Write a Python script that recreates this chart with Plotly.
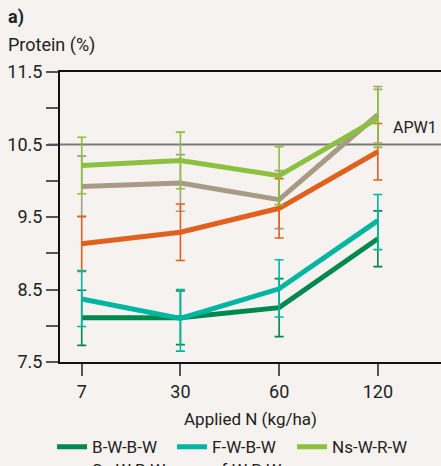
import plotly.graph_objects as go

# ---- data ----
n_rates = ["7", "30", "60", "120"]
series_names = ["B-W-B-W", "F-W-B-W", "Ns-W-R-W", "Sc-W-B-W", "af-W-R-W"]
bwbw = [8.11, 8.11, 8.25, 9.20]
bwbw_err = [0.38, 0.37, 0.40, 0.385]
fwbw = [8.37, 8.10, 8.51, 9.45]
fwbw_err_plus = [0.39, 0.40, 0.40, 0.36]
fwbw_err_minus = [0.38, 0.45, 0.39, 0.40]
nswrw = [10.21, 10.28, 10.07, 10.86]
nswrw_err = [0.39, 0.39, 0.40, 0.40]
orange_vals = [9.13, 9.29, 9.62, 10.40]
orange_err = [0.38, 0.39, 0.41, 0.39]
tan_vals = [9.92, 9.97, 9.74, 10.91]
tan_err = [0.42, 0.39, 0.40, 0.39]
apw1_level = 10.5
y_tickvals = [7.5, 8.0, 8.5, 9.0, 9.5, 10.0, 10.5, 11.0, 11.5]
y_ticktext = ["7.5", "", "8.5", "", "9.5", "", "10.5", "", "11.5"]

colors = {
    "B-W-B-W": "#00884f",
    "F-W-B-W": "#00b6a1",
    "Ns-W-R-W": "#8cc03f",
    "Sc-W-B-W": "#e0601e",
    "af-W-R-W": "#a89b86",
}

FONT = "Roboto, sans-serif"

fig = go.Figure()

def add(name, vals, plus, minus, rank, legend):
    c = colors[name]
    fig.add_trace(go.Scatter(
        x=n_rates, y=vals, name=name, mode="lines",
        line=dict(color=c, width=5),
        error_y=dict(type="data", array=plus, arrayminus=minus, symmetric=False,
                     color=c, thickness=1.6, width=4.5),
        legendrank=rank, legend=legend,
    ))

add(series_names[4], tan_vals, tan_err, tan_err, 5, "legend2")
add(series_names[3], orange_vals, orange_err, orange_err, 4, "legend2")
add(series_names[0], bwbw, bwbw_err, bwbw_err, 1, "legend")
add(series_names[1], fwbw, fwbw_err_plus, fwbw_err_minus, 2, "legend")
add(series_names[2], nswrw, nswrw_err, nswrw_err, 3, "legend")

fig.add_shape(type="line", xref="paper", yref="y", x0=-0.0315, x1=1,
              y0=apw1_level, y1=apw1_level, line=dict(color="#7a7a7a", width=2),
              layer="below")

fig.add_annotation(text="APW1", xref="paper", yref="y", x=0.868, y=10.73,
                   xanchor="left", yanchor="middle", showarrow=False,
                   font=dict(size=16, color="#222", family=FONT))
fig.add_annotation(text="<b>a)</b>", xref="paper", yref="paper", x=-0.142, y=1.19,
                   xanchor="left", yanchor="middle", showarrow=False,
                   font=dict(size=18, color="#222", family=FONT))
fig.add_annotation(text="Protein (%)", xref="paper", yref="paper", x=-0.142, y=1.093,
                   xanchor="left", yanchor="middle", showarrow=False,
                   font=dict(size=18, color="#222", family=FONT))

legend_common = dict(orientation="h", xref="container", yref="container",
                     x=0.118, xanchor="left", yanchor="top",
                     entrywidth=75, entrywidthmode="pixels", itemwidth=30,
                     font=dict(size=17, family=FONT), bgcolor="rgba(0,0,0,0)",
                     traceorder="normal", tracegroupgap=0)

fig.update_layout(
    width=441, height=466,
    margin=dict(l=60, r=0, t=72, b=104, autoexpand=False),
    paper_bgcolor="#f5f2ef", plot_bgcolor="#f5f2ef",
    font=dict(family=FONT, size=18, color="#222"),
    showlegend=True,
    legend=dict(legend_common, y=0.079),
    legend2=dict(legend_common, y=0.030),
    xaxis=dict(type="category", range=[-0.22, 3.64], showgrid=False, zeroline=False,
               showline=True, linecolor="#111", linewidth=2, mirror=True,
               ticks="outside", ticklen=12, tickwidth=2, tickcolor="#555",
               title=dict(text="Applied N (kg/ha)", standoff=19, font=dict(size=17)),
               tickfont=dict(size=18)),
    yaxis=dict(range=[7.5, 11.5], tickvals=y_tickvals, ticktext=y_ticktext,
               showgrid=False, zeroline=False, showline=True, linecolor="#111",
               linewidth=2, ticks="outside", ticklen=12, tickwidth=2, tickcolor="#555",
               tickfont=dict(size=18)),
)

fig.write_html("out.html")
